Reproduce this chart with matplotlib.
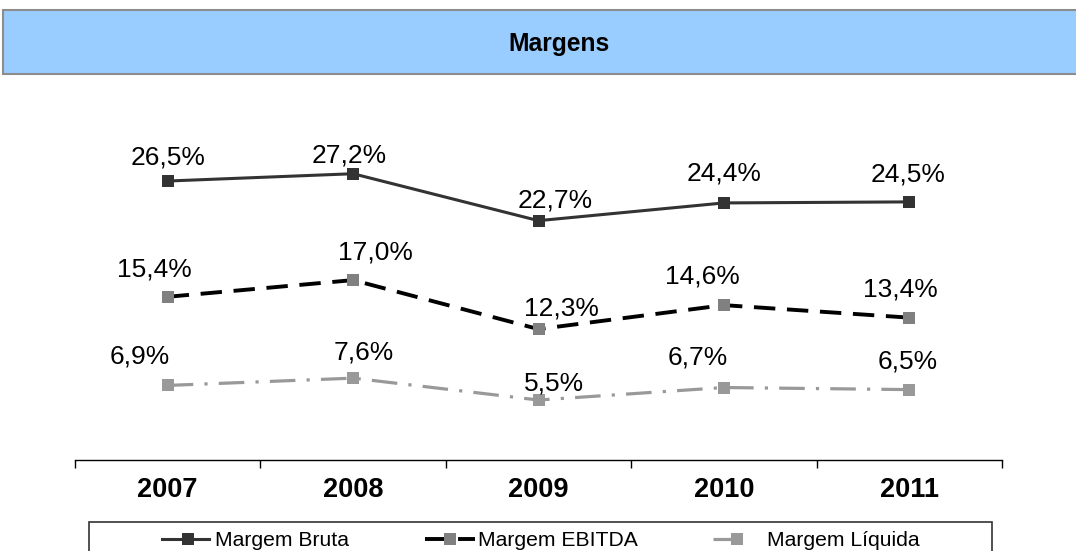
import matplotlib as mpl
import matplotlib.pyplot as plt
from matplotlib.lines import Line2D
from matplotlib.patches import Rectangle

W, H = 1076, 551

YEARS = ["2007", "2008", "2009", "2010", "2011"]
BRUTA = [26.5, 27.2, 22.7, 24.4, 24.5]
EBITDA = [15.4, 17.0, 12.3, 14.6, 13.4]
LIQUIDA = [6.9, 7.6, 5.5, 6.7, 6.5]
SERIES_NAMES = ["Margem Bruta", "Margem EBITDA", "Margem Líquida"]

# label offsets from the marker, in pixels (dx, dy up)
OFF_BRUTA = [(0, 24), (-4, 18), (17, 20), (0, 29), (-1, 27)]
OFF_EBITDA = [(-13, 27), (22, 28), (23, 21), (-22, 29), (-9, 28)]
OFF_LIQUIDA = [(-28, 29), (11, 26), (16, 17), (-26, 30), (-2, 28)]

STYLES = [
    dict(color="#333333", lw=2.2, ls="-", marker="s", ms=8, mfc="#333333", mec="#333333", mew=0),
    dict(color="#000000", lw=2.8, dashes=(5.5, 3.0), marker="s", ms=8, mfc="#808080", mec="#808080", mew=0),
    dict(color="#999999", lw=2.3, dashes=(8, 3.5, 1, 3.5), marker="s", ms=8, mfc="#999999", mec="#999999", mew=0),
]
# legend handle extents in pixels: line start, line end, marker centre
LEG_HANDLES = [(162, 209, 188), (425, 475, 450), (713, 743, 737)]
LEG_TEXT_X = [215, 478, 767]

mpl.rcParams.update({
    "font.family": ["Liberation Sans", "DejaVu Sans"],
})


def fmt(v):
    return f"{v:.1f}%".replace(".", ",")


fig = plt.figure(figsize=(W / 100, H / 100), dpi=100, facecolor="white")

# title banner
fig.patches.append(Rectangle((3 / W, 1 - 74 / H), 1.0, 64 / H, transform=fig.transFigure,
                             facecolor="#99ccff", edgecolor="#8c8c8c", linewidth=1.5))
fig.text(559 / W, 1 - 44 / H, "Margens", ha="center", va="center",
         fontsize=17.7, fontweight="bold", color="#000000")

ax = fig.add_axes([75 / W, 1 - 460 / H, (1002 - 75) / W, (460 - 100) / H])
x = list(range(len(YEARS)))
for vals, offs, st in zip([BRUTA, EBITDA, LIQUIDA], [OFF_BRUTA, OFF_EBITDA, OFF_LIQUIDA], STYLES):
    ax.plot(x, vals, clip_on=False, **st)
    for xi, v, (dx, dy) in zip(x, vals, offs):
        ax.annotate(fmt(v), (xi, v), xytext=(dx * 0.72, dy * 0.72), textcoords="offset points",
                    ha="center", va="center", fontsize=19, color="#000000")

ax.set_xlim(-0.5, len(YEARS) - 0.5)
ax.set_ylim(-0.25, 34.27)
ax.set_xticks(x)
ax.set_xticklabels(YEARS, fontsize=19.5, fontweight="bold")
ax.set_xticks([i - 0.5 for i in range(len(YEARS) + 1)], minor=True)
ax.tick_params(axis="x", which="major", length=0, pad=12)
ax.tick_params(axis="x", which="minor", length=6, width=1, color="#000000")
ax.set_yticks([])
for name in ["top", "right", "left"]:
    ax.spines[name].set_visible(False)
ax.spines["bottom"].set_linewidth(1)
ax.spines["bottom"].set_color("#000000")
ax.set_facecolor("none")

# legend box (runs off the bottom edge, as in the source)
fig.patches.append(Rectangle((89 / W, 1 - 600 / H), (992 - 89) / W, 78 / H, transform=fig.transFigure,
                             facecolor="white", edgecolor="#333333", linewidth=1.2))
yy = 1 - 539 / H
for name, st, (x0, x1, xm), tx in zip(SERIES_NAMES, STYLES, LEG_HANDLES, LEG_TEXT_X):
    line_kw = {k: v for k, v in st.items() if k not in ("marker", "ms", "mfc", "mec", "mew")}
    fig.lines.append(Line2D([x0 / W, x1 / W], [yy, yy], transform=fig.transFigure, **line_kw))
    fig.lines.append(Line2D([xm / W], [yy], transform=fig.transFigure, ls="none",
                            marker="s", ms=st["ms"], mfc=st["mfc"], mew=0))
    fig.text(tx / W, 1 - 545.5 / H, name, ha="left", va="baseline", fontsize=15.2, color="#000000")

fig.savefig("out.png", dpi=100)
